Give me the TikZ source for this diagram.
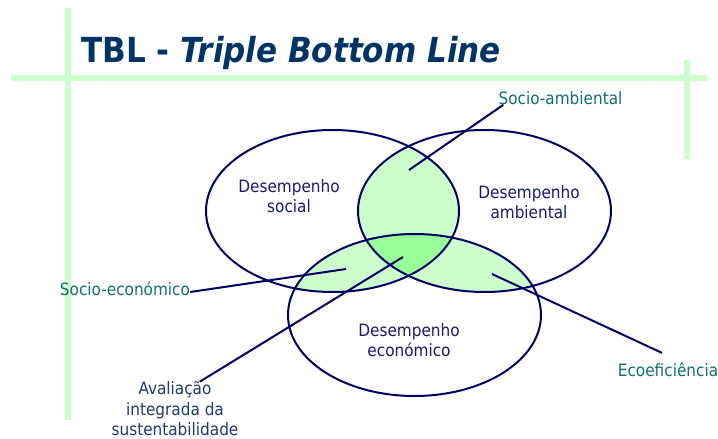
\documentclass[tikz,border=0pt]{standalone}
\usepackage{fontspec}
\setmainfont{DejaVu Sans Condensed}
\usepackage{tikz}
\definecolor{titleblue}{HTML}{003366}
\definecolor{textblue}{HTML}{1A1A6C}
\definecolor{avalblue}{HTML}{1F3A6E}
\definecolor{tagteal}{HTML}{127068}
\definecolor{ringblue}{HTML}{000066}
\definecolor{pairgreen}{HTML}{CCFFCC}
\definecolor{coregreen}{HTML}{99FF99}
\definecolor{paleline}{HTML}{CCFFCC}

\begin{document}
\begin{tikzpicture}[x=1pt,y=-1pt,
        ring/.style={draw=ringblue,line width=2pt},
        guide/.style={draw=paleline,line width=6pt},
        areatext/.style={text=textblue,align=center,inner sep=0pt,
            font=\fontsize{17}{20.5}\selectfont},
        tag/.style={text=tagteal,inner sep=0pt,
            font=\fontsize{17}{20.5}\selectfont},
        lead/.style={draw=ringblue,line width=2pt}]
    \useasboundingbox (0,0) rectangle (718,439);
    \draw[guide] (68,8) -- (68,420);
    \draw[guide] (11,78) -- (707,78);
    \draw[guide] (687,60) -- (687,159);
    \node[anchor=base west,text=titleblue,inner sep=0pt,
        font=\fontsize{34.5}{40}\selectfont\bfseries]
        (title) at (81,62) {TBL - \textit{Triple Bottom Line}};
    \def\social{(332.5,211) ellipse [x radius=126.5, y radius=81]}
    \def\ambient{(484.5,211) ellipse [x radius=126.5, y radius=81]}
    \def\economic{(414.5,315) ellipse [x radius=126.5, y radius=81]}
    \begin{scope}
        \clip \social;
        \fill[pairgreen] \ambient;
        \fill[pairgreen] \economic;
    \end{scope}
    \begin{scope}
        \clip \ambient;
        \fill[pairgreen] \economic;
    \end{scope}
    \begin{scope}
        \clip \social;
        \clip \ambient;
        \fill[coregreen] \economic;
    \end{scope}
    \draw[ring] \social;
    \draw[ring] \ambient;
    \draw[ring] \economic;
    \node[areatext] (soc) at (289,196) {Desempenho\\social};
    \node[areatext] (amb) at (529,202) {Desempenho\\ambiental};
    \node[areatext] (eco) at (409,340) {Desempenho\\económico};
    \node[tag] (sa) at (560.5,98) {Socio-ambiental};
    \node[tag] (se) at (125,289) {Socio-económico};
    \node[tag] (ef) at (668,370) {Ecoeficiência};
    \node[areatext,text=avalblue] (av) at (175,409)
        {Avaliação\\integrada da\\sustentabilidade};
    \coordinate (saIn) at (409,170);
    \coordinate (seIn) at (346,269);
    \coordinate (efIn) at (492,274);
    \coordinate (avIn) at (403,257);
    \draw[lead] ([xshift=5pt]sa.south west) -- (saIn);
    \draw[lead] ([yshift=-3pt]se.east) -- (seIn);
    \draw[lead] ([xshift=-6pt,yshift=10pt]ef.north) -- (efIn);
    \draw[lead] ([xshift=25pt]av.north) -- (avIn);
\end{tikzpicture}
\end{document}
